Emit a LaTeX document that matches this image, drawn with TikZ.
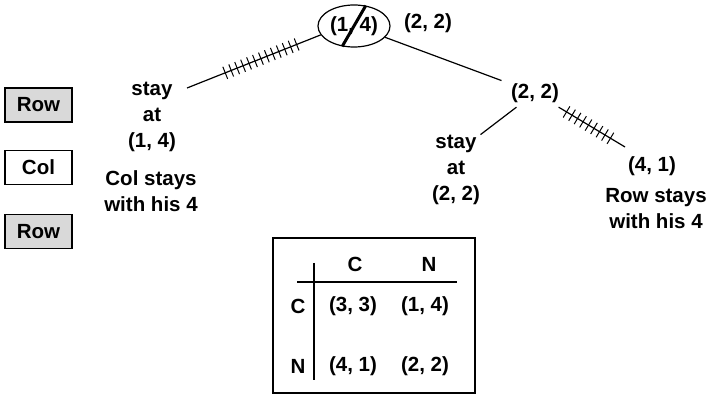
\documentclass[tikz,border=0pt]{standalone}
\usepackage{fontspec}
\setmainfont{Liberation Sans}
\usepackage{tikz}
\usetikzlibrary{shapes.geometric,decorations.markings}

\tikzset{
  txt/.style={font=\bfseries\fontsize{20.5}{26}\selectfont, align=center, inner sep=0pt},
  player/.style={txt, draw, line width=1.3pt, minimum width=67pt, minimum height=34pt},
  cut/.style={decoration={markings, mark=between positions #1 step 6.4pt with {\draw[line width=1pt] (0,-6.5pt) -- (0,6.5pt);}}, postaction={decorate}},
}

\begin{document}
\begin{tikzpicture}[x=1pt,y=-1pt,line width=1.2pt]
\useasboundingbox (0,0) rectangle (709,395);
\node[txt,draw,ellipse,line width=1.2pt,minimum width=72pt,minimum height=42pt] (root) at (354,26) {(1, 4)};
\draw[line width=3pt] (root.240) -- (root.60);
\node[txt] (rootpay) at (428,23) {(2, 2)};
\node[txt] (stayL) at (152,117) {stay\\at\\(1, 4)};
\node[txt] (noteL) at (151,191) {Col stays\\with his 4};
\node[txt,inner xsep=9pt,inner ysep=4pt] (mid) at (535,93) {(2, 2)};
\node[txt] (stayR) at (456,170) {stay\\at\\(2, 2)};
\node[txt] (pay41) at (652,166) {(4, 1)};
\node[txt] (noteR) at (656,209) {Row stays\\with his 4};
\coordinate (tipL) at (187,88);
\coordinate (tipR) at (625,147);
\draw[cut=0.18 and 0.75] (root.195) -- (tipL);
\draw (root.-20) -- (mid);
\draw (mid) -- (stayR.north east);
\draw[cut=0.12 and 0.85] (mid) -- (tipR);
\node[player,fill=gray!30] (row1) at (38.5,105) {Row};
\node[player] (col) at (38.5,167.5) {Col};
\node[player,fill=gray!30] (row2) at (38.5,231.5) {Row};
\node[draw,line width=1.3pt,minimum width=202pt,minimum height=155pt,inner sep=0pt] (game) at (374,315.5) {};
\node[txt] (hdC) at (355,264) {C};
\node[txt] (hdN) at (429,264) {N};
\node[txt] (rwC) at (298,306) {C};
\node[txt] (rwN) at (298,366) {N};
\node[txt] (cc) at (353,306) {(3, 3)};
\node[txt] (cn) at (425,306) {(1, 4)};
\node[txt] (nc) at (353,366) {(4, 1)};
\node[txt] (nn) at (425,366) {(2, 2)};
\draw (297,282) -- (457,282);
\draw (314,263) -- (314,380);
\end{tikzpicture}
\end{document}
